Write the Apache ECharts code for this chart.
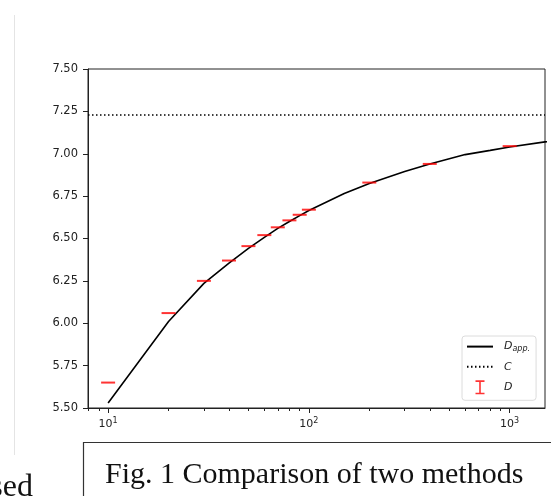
<!DOCTYPE html>
<html>
<head>
<meta charset="utf-8">
<script src="https://cdn.jsdelivr.net/npm/echarts@6/dist/echarts.min.js"></script>
<style>
  html, body { margin: 0; padding: 0; background: #fff; }
  #chart { width: 551px; height: 496px; }
</style>
</head>
<body>
<div id="chart"></div>
<script>
// approximation curve D_app.
const approxN = [10, 20, 30, 40, 50, 60, 70, 80, 90, 100, 150, 200, 300, 400, 600, 800, 1000, 1500, 2000];
const approxVal = [5.53, 6.01, 6.235, 6.355, 6.442, 6.507, 6.56, 6.60, 6.635, 6.665, 6.765, 6.825, 6.895, 6.94, 6.995, 7.02, 7.04, 7.07, 7.09];

// measured values D (red caps)
const measN = [10, 20, 30, 40, 50, 60, 70, 80, 90, 100, 200, 400, 1000];
const measVal = [5.65, 6.06, 6.25, 6.37, 6.455, 6.52, 6.566, 6.607, 6.64, 6.67, 6.83, 6.94, 7.045];

// limit C
const cValue = 7.226;

// axes
const xLimits = [7.94, 1500];
const xMajor = [10, 100, 1000];
const xMinor = [8, 9, 20, 30, 40, 50, 60, 70, 80, 90, 200, 300, 400, 500, 600, 700, 800, 900];
const yLimits = [5.5, 7.5];
const yStep = 0.25;

const lg = Math.log10;
const labelFont = 'DejaVu Sans';
const noSymbol = { color: 'rgba(0,0,0,0)', borderWidth: 0, opacity: 0 };

const chart = echarts.init(document.getElementById('chart'));

const option = {
  animation: false,
  backgroundColor: '#fff',
  grid: {
    left: 88, top: 69, right: 6, bottom: 88,
    show: true, borderColor: '#222', borderWidth: 1
  },
  legend: {
    orient: 'vertical',
    left: 462, top: 336,
    padding: [5, 6, 6, 4],
    itemGap: 8,
    itemWidth: 26,
    itemHeight: 14,
    borderColor: '#dcdcdc',
    borderWidth: 1,
    borderRadius: 3,
    backgroundColor: 'rgba(255,255,255,0.85)',
    data: [
      { name: 'Dapp', itemStyle: noSymbol },
      { name: 'C', itemStyle: noSymbol },
      { name: 'D', icon: 'path://M0,0H9V1.6H5.3V12.4H9V14H0V12.4H3.7V1.6H0Z', itemStyle: { color: '#ff0000' } }
    ],
    formatter: name => name === 'Dapp' ? '{it|D}{sub|app.}' : '{it|' + name + '}',
    textStyle: {
      rich: {
        it: { fontFamily: labelFont, fontStyle: 'italic', fontSize: 11, color: '#222', padding: [0, 0, 0, 6] },
        sub: { fontFamily: labelFont, fontStyle: 'italic', fontSize: 8, color: '#222', verticalAlign: 'top', padding: [5, 0, 0, 0] }
      }
    }
  },
  xAxis: [{
    type: 'value',
    min: lg(xLimits[0]), max: lg(xLimits[1]),
    position: 'bottom',
    splitLine: { show: false },
    axisLine: { show: true, lineStyle: { color: '#222', width: 1 } },
    axisTick: { show: true, length: 5, customValues: xMajor.map(lg), lineStyle: { color: '#222' } },
    axisLabel: {
      customValues: xMajor.map(lg),
      margin: 9,
      formatter: v => '{b|10}{s|' + Math.round(v) + '}',
      rich: {
        b: { fontFamily: labelFont, fontSize: 11, color: '#222', verticalAlign: 'bottom' },
        s: { fontFamily: labelFont, fontSize: 8, color: '#222', verticalAlign: 'bottom', padding: [0, 0, 5, 0] }
      }
    }
  }, {
    type: 'value',
    min: lg(xLimits[0]), max: lg(xLimits[1]),
    position: 'bottom',
    splitLine: { show: false },
    axisLine: { show: false },
    axisTick: { show: true, length: 3, customValues: xMinor.map(lg), lineStyle: { color: '#222' } },
    axisLabel: { show: false }
  }],
  yAxis: {
    type: 'value',
    min: yLimits[0], max: yLimits[1], interval: yStep,
    splitLine: { show: false },
    axisLine: { show: true, lineStyle: { color: '#222', width: 1 } },
    axisTick: { show: true, length: 5, lineStyle: { color: '#222' } },
    axisLabel: {
      margin: 10,
      fontFamily: labelFont, fontSize: 11.5, color: '#222',
      formatter: v => v.toFixed(2)
    }
  },
  series: [{
    name: 'Dapp',
    type: 'line',
    data: approxN.map((n, i) => [lg(n), approxVal[i]]),
    symbol: 'none',
    color: '#000',
    lineStyle: { color: '#000', width: 1.6 },
    clip: true,
    z: 3
  }, {
    name: 'C',
    type: 'line',
    data: [],
    symbol: 'none',
    color: '#000',
    lineStyle: { color: '#000', width: 1.5, type: [1.5, 2.5] },
    markLine: {
      silent: true,
      symbol: 'none',
      label: { show: false },
      lineStyle: { color: '#000', width: 1.5, type: [1.5, 2.5] },
      data: [{ yAxis: cValue }]
    }
  }, {
    name: 'D',
    type: 'scatter',
    data: measN.map((n, i) => [lg(n), measVal[i]]),
    symbol: 'rect',
    symbolSize: [14, 2],
    itemStyle: { color: '#ff0000' },
    z: 4
  }],
  graphic: [{
    type: 'line',
    shape: { x1: 14.5, y1: 15, x2: 14.5, y2: 455 },
    style: { stroke: '#e4e4e4', lineWidth: 1 }
  }, {
    type: 'rect',
    shape: { x: 83.5, y: 442.5, width: 520, height: 100 },
    style: { fill: '#fff', stroke: '#333', lineWidth: 1.2 }
  }, {
    type: 'text',
    x: 105, y: 475,
    style: {
      text: 'Fig. 1 Comparison of two methods',
      font: '30px "Liberation Serif"',
      fill: '#111',
      verticalAlign: 'middle'
    }
  }, {
    type: 'text',
    x: 33, y: 488,
    style: {
      text: 'used',
      font: '32px "Liberation Serif"',
      fill: '#111',
      align: 'right',
      verticalAlign: 'middle'
    }
  }]
};

chart.setOption(option);
</script>
</body>
</html>
